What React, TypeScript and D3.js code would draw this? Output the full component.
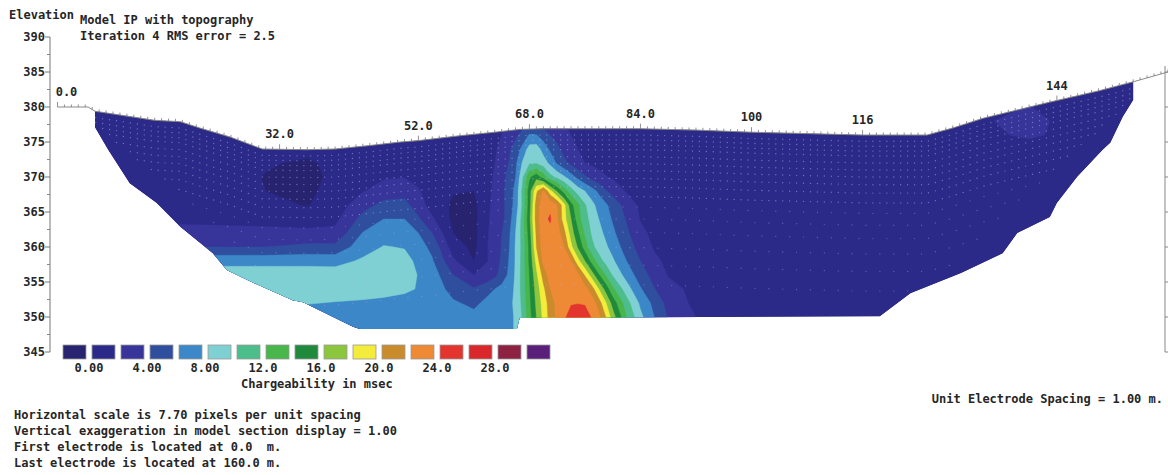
import React from "react";
import * as d3 from "d3";

// ---------- DATA ----------
// Grid columns (distance along line, m) and rows (elevation, m) of the chargeability model
const distCols = [0, 6, 12, 18, 24, 30, 36, 40, 44, 47, 50, 52, 54, 57, 60, 62, 63, 64, 65, 66, 67, 68, 69, 70, 71, 72, 73, 74, 75, 76, 77, 78, 79, 80, 82, 84, 86, 88, 92, 100, 110, 120, 130, 140, 150, 160];
const elevRows = [386, 378, 376, 374, 372, 370, 368, 366, 364, 362, 360, 358, 356, 354, 352, 350, 348, 346];

// Chargeability (msec) read from the section, one array per elevation row
const row386 = [1.3, 1.3, 1.3, 1.3, 1.3, 1.3, 1.3, 1.3, 1.3, 1.3, 1.3, 1.3, 1.3, 1.3, 1.3, 1.3, 1.3, 1.3, 1.3, 1.3, 1.3, 1.3, 1.3, 1.3, 1.3, 1.3, 1.3, 1.3, 1.3, 1.3, 1.3, 1.3, 1.3, 1.3, 1.3, 1.3, 1.3, 1.3, 1.3, 1.3, 1.3, 1.3, 1.3, 1.3, 1.3, 1.3];
const row378 = [1.3, 1.3, 1.3, 1.3, 1.3, 1.3, 1.3, 1.3, 1.3, 1.3, 1.3, 1.3, 1.3, 1.4, 1.5, 1.6, 1.7, 2.0, 2.3, 2.6, 3.0, 3.2, 3.2, 3.0, 2.6, 2.2, 1.9, 1.7, 1.5, 1.4, 1.4, 1.4, 1.4, 1.4, 1.4, 1.4, 1.4, 1.4, 1.3, 1.3, 1.3, 1.3, 1.7, 2.3, 1.3, 1.3];
const row376 = [1.3, 1.3, 1.3, 1.3, 1.3, 1.2, 1.1, 1.2, 1.3, 1.4, 1.5, 1.5, 1.5, 1.5, 1.5, 1.5, 1.6, 2.0, 2.8, 3.6, 4.6, 6.2, 6.1, 5.0, 4.0, 3.4, 2.7, 2.0, 1.7, 1.5, 1.4, 1.4, 1.4, 1.4, 1.4, 1.4, 1.4, 1.4, 1.3, 1.3, 1.3, 1.3, 1.5, 2.2, 1.3, 1.3];
const row374 = [1.3, 1.3, 1.3, 1.3, 1.3, 1.0, 0.6, 1.0, 1.3, 1.4, 1.5, 1.5, 1.4, 1.5, 1.4, 1.4, 1.7, 2.6, 3.6, 4.8, 6.6, 8.8, 9.0, 7.2, 5.6, 4.4, 3.4, 2.6, 2.0, 1.7, 1.5, 1.4, 1.4, 1.4, 1.4, 1.4, 1.4, 1.4, 1.3, 1.3, 1.3, 1.3, 1.3, 1.5, 1.3, 1.3];
const row372 = [1.3, 1.3, 1.3, 1.3, 1.0, 0.2, -0.3, 0.5, 1.3, 1.5, 1.6, 1.3, 1.2, 1.1, 1.2, 1.4, 2.0, 3.0, 4.0, 5.6, 8.2, 9.7, 9.8, 9.0, 7.5, 5.7, 4.5, 3.5, 2.6, 2.0, 1.7, 1.5, 1.4, 1.4, 1.4, 1.4, 1.4, 1.4, 1.3, 1.3, 1.3, 1.3, 1.3, 1.3, 1.3, 1.3];
const row370 = [1.3, 1.3, 1.3, 1.3, 0.8, -0.1, -0.4, 0.3, 1.5, 1.8, 1.9, 1.4, 1.0, 0.6, 0.6, 1.5, 2.2, 3.2, 4.6, 6.0, 9.6, 13.6, 15.2, 13.0, 10.6, 9.5, 8.3, 6.8, 5.5, 4.3, 3.3, 2.6, 2.1, 1.8, 1.5, 1.4, 1.4, 1.4, 1.3, 1.3, 1.3, 1.3, 1.3, 1.3, 1.3, 1.3];
const row368 = [1.3, 1.3, 1.3, 1.3, 0.8, 0.0, -0.3, 0.5, 1.9, 2.8, 3.3, 2.2, 0.9, 0.1, 0.0, 1.6, 2.4, 3.5, 4.8, 6.6, 10.4, 15.0, 19.6, 22.3, 18.6, 15.7, 13.0, 10.9, 9.0, 8.0, 6.8, 5.6, 4.2, 3.3, 1.8, 1.4, 1.4, 1.4, 1.3, 1.3, 1.3, 1.3, 1.3, 1.3, 1.3, 1.3];
const row366 = [1.3, 1.3, 1.3, 1.2, 1.0, 0.5, -0.1, 0.9, 3.2, 4.6, 4.6, 3.0, 1.1, -0.3, -0.5, 1.7, 2.5, 3.4, 4.8, 6.8, 10.3, 15.0, 21.0, 23.0, 23.6, 22.0, 18.6, 14.6, 12.4, 10.2, 8.6, 7.2, 6.3, 5.2, 3.2, 1.6, 1.4, 1.4, 1.3, 1.3, 1.3, 1.3, 1.3, 1.3, 1.3, 1.3];
const row364 = [1.3, 1.3, 1.4, 1.6, 1.5, 1.3, 1.0, 1.5, 4.7, 6.0, 6.0, 4.3, 2.3, -0.4, -0.6, 1.8, 2.6, 3.4, 5.0, 7.5, 10.8, 15.5, 21.0, 23.6, 24.2, 22.3, 18.8, 16.0, 12.8, 10.6, 9.4, 8.0, 6.8, 5.8, 3.8, 1.9, 1.4, 1.4, 1.3, 1.3, 1.3, 1.3, 1.3, 1.3, 1.3, 1.3];
const row362 = [1.3, 1.5, 2.4, 2.6, 2.6, 2.6, 2.5, 2.5, 6.1, 7.2, 7.0, 6.0, 4.0, 0.0, -0.6, 1.9, 2.8, 4.0, 5.5, 8.0, 10.8, 15.0, 20.4, 23.3, 23.5, 23.0, 20.6, 17.0, 14.3, 11.6, 9.7, 8.6, 7.6, 6.4, 4.4, 2.4, 1.6, 1.4, 1.3, 1.3, 1.3, 1.3, 1.3, 1.3, 1.3, 1.3];
const row360 = [1.5, 2.5, 4.0, 4.0, 4.0, 4.0, 4.5, 4.5, 7.2, 8.1, 7.9, 6.8, 5.5, 1.0, -0.5, 2.0, 3.0, 4.1, 5.7, 8.2, 10.6, 14.5, 20.0, 23.2, 23.6, 23.4, 22.0, 18.5, 15.7, 13.0, 10.5, 9.2, 8.3, 7.3, 5.0, 3.2, 1.8, 1.4, 1.3, 1.3, 1.3, 1.3, 1.3, 1.3, 1.3, 1.3];
const row358 = [3.0, 6.0, 7.4, 7.4, 7.4, 7.4, 7.4, 7.3, 8.3, 8.7, 8.6, 7.6, 6.2, 2.4, 0.0, 2.0, 3.1, 4.3, 6.0, 8.2, 10.7, 14.4, 18.6, 22.6, 23.8, 23.8, 23.4, 22.0, 18.6, 16.0, 13.2, 10.8, 9.4, 8.3, 6.0, 4.0, 2.4, 1.6, 1.3, 1.3, 1.3, 1.3, 1.3, 1.3, 1.3, 1.3];
const row356 = [9.0, 9.0, 9.0, 9.0, 9.0, 9.0, 9.0, 9.0, 9.0, 9.0, 9.0, 7.9, 7.0, 4.0, 2.0, 2.6, 3.5, 4.8, 6.3, 8.3, 10.8, 14.0, 17.5, 20.8, 23.0, 23.8, 23.9, 23.6, 22.5, 19.8, 17.0, 14.2, 11.8, 9.8, 7.2, 5.0, 3.2, 1.9, 1.4, 1.3, 1.3, 1.3, 1.3, 1.3, 1.3, 1.3];
const row354 = [9.0, 9.0, 9.0, 9.0, 9.0, 9.0, 9.0, 9.0, 9.0, 8.6, 8.3, 7.9, 7.3, 5.2, 4.2, 5.4, 6.0, 6.6, 7.2, 8.3, 10.8, 13.8, 16.8, 19.5, 22.0, 23.4, 23.9, 23.9, 23.5, 22.8, 20.9, 18.0, 15.2, 12.4, 8.9, 6.2, 4.1, 2.6, 1.5, 1.3, 1.3, 1.3, 1.3, 1.3, 1.3, 1.3];
const row352 = [9.0, 9.0, 9.0, 9.0, 9.0, 9.0, 8.1, 7.9, 7.7, 7.6, 7.4, 7.4, 7.2, 6.3, 5.5, 6.6, 6.9, 7.2, 7.6, 8.3, 10.5, 13.5, 16.4, 18.8, 21.0, 22.6, 23.4, 23.8, 23.9, 23.8, 23.2, 21.0, 18.2, 15.2, 10.8, 7.6, 5.4, 3.3, 1.5, 1.3, 1.3, 1.3, 1.3, 1.3, 1.3, 1.3];
const row350 = [9.0, 9.0, 9.0, 9.0, 9.0, 9.0, 7.0, 7.0, 7.0, 7.0, 7.0, 7.0, 7.0, 7.0, 6.6, 7.0, 7.0, 7.2, 7.5, 8.2, 10.2, 13.2, 16.0, 18.5, 20.8, 22.5, 23.6, 25.0, 25.5, 25.0, 23.8, 22.5, 20.0, 17.0, 12.0, 8.5, 6.0, 3.8, 2.0, 1.4, 1.3, 1.3, 1.3, 1.3, 1.3, 1.3];
const row348 = [9.0, 9.0, 9.0, 9.0, 9.0, 9.0, 7.0, 7.0, 7.0, 7.0, 7.0, 7.0, 7.0, 7.0, 6.6, 7.0, 7.0, 7.2, 7.5, 8.2, 10.2, 13.2, 16.0, 18.5, 20.8, 22.5, 23.6, 25.0, 25.5, 25.0, 23.8, 22.5, 20.0, 17.0, 12.0, 8.5, 6.0, 3.8, 2.0, 1.4, 1.3, 1.3, 1.3, 1.3, 1.3, 1.3];
const row346 = [9.0, 9.0, 9.0, 9.0, 9.0, 9.0, 7.0, 7.0, 7.0, 7.0, 7.0, 7.0, 7.0, 7.0, 6.6, 7.0, 7.0, 7.2, 7.5, 8.2, 10.2, 13.2, 16.0, 18.5, 20.8, 22.5, 23.6, 25.0, 25.5, 25.0, 23.8, 22.5, 20.0, 17.0, 12.0, 8.5, 6.0, 3.8, 2.0, 1.4, 1.3, 1.3, 1.3, 1.3, 1.3, 1.3];
const chargeRows = [row386, row378, row376, row374, row372, row370, row368, row366, row364, row362, row360, row358, row356, row354, row352, row350, row348, row346];

// Topography (distance m, elevation m)
const topoDist = [0, 4.4, 5.4, 10, 14, 17.7, 20.5, 24.9, 29.5, 36, 40, 45, 49.4, 52, 58, 63, 66.6, 70, 84, 92, 100, 108, 116, 125.3, 129, 133.4, 138, 143, 150, 155, 160];
const topoElev = [380, 380, 379.4, 378.7, 378.1, 377.9, 377, 375.7, 374, 373.9, 374, 374.5, 375, 375.2, 375.9, 376.4, 376.8, 376.9, 376.9, 376.7, 376.4, 376.2, 376, 376, 377, 378.4, 379.5, 380.7, 382.3, 383.6, 385];

// Lower boundary of the model section (left top -> bottom -> right top)
const baseDist = [5.4, 5.4, 7.3, 10.4, 14.3, 17.7, 22.4, 24.4, 28.2, 33.9, 35.4, 42.6, 43.6, 66.2, 66.6, 118.5, 122.9, 130.2, 136.2, 138.3, 143.0, 144.0, 146.9, 150.6, 151.7, 153.5, 155.0, 155.0];
const baseElev = [379.4, 377.1, 373.9, 369.1, 366.3, 362.9, 359.1, 356.7, 354.9, 352.4, 352.1, 348.6, 348.3, 348.3, 349.9, 350.1, 353.4, 356.3, 359.1, 362, 364.3, 366.3, 370, 373.9, 374.9, 378.6, 381, 383.6];

// Colour scale
const legendLevels = [0, 2, 4, 6, 8, 10, 12, 14, 16, 18, 20, 22, 24, 26, 28, 30];
const legendColors = ["#27236f", "#2c2a88", "#38359a", "#2f4f9e", "#3c87c8", "#7fd0d2", "#4dbd8b", "#49b64b", "#1f8a3b", "#8cc63f", "#f3ec3b", "#c98b2c", "#ee8a36", "#e3342d", "#d9272b", "#8c2141", "#5a1f7a"];
const legendLabelValues = [0, 4, 8, 12, 16, 20, 24, 28];
const legendLabels = ["0.00", "4.00", "8.00", "12.0", "16.0", "20.0", "24.0", "28.0"];

// Electrode labels along the topography
const electrodeLabelDist = [0, 32, 52, 68, 84, 100, 116, 144];
const electrodeLabels = ["0.0", "32.0", "52.0", "68.0", "84.0", "100", "116", "144"];

// Elevation axis
const yTickValues = [345, 350, 355, 360, 365, 370, 375, 380, 385, 390];
const yMinorValues = [347.5, 352.5, 357.5, 362.5, 367.5, 372.5, 377.5, 382.5, 387.5];

// Model block depths (m below surface) for the block-centre dots
const layerDepths = [0.9, 1.6, 2.3, 3.0, 4.0, 5.0, 6.0, 7.1, 8.3, 9.7, 11.2, 12.9, 14.8, 17.0, 19.5, 22.3];

const infoLines = [
  "Horizontal scale is 7.70 pixels per unit spacing",
  "Vertical exaggeration in model section display = 1.00",
  "First electrode is located at 0.0  m.",
  "Last electrode is located at 160.0 m.",
];

const FONT = "'DejaVu Sans Mono', 'Liberation Mono', monospace";

export default function App() {
  const W = 1168;
  const H = 475;
  const x = d3.scaleLinear().domain([0, 160]).range([57.5, 1167.9]);
  const y = d3.scaleLinear().domain([345, 390]).range([352, 37]);
  const topo = d3.scaleLinear().domain(topoDist).range(topoElev);
  const iToD = d3.scaleLinear().domain(distCols.map((_, i) => i)).range(distCols);
  const jToE = d3.scaleLinear().domain(elevRows.map((_, j) => j)).range(elevRows);

  const values = chargeRows.flat();
  const bands = d3.contours().size([distCols.length, elevRows.length]).thresholds(legendLevels)(values);
  const proj = d3.geoTransform({
    point(px: number, py: number) {
      // @ts-ignore
      this.stream.point(x(iToD(px - 0.5)), y(jToE(py - 0.5)));
    },
  });
  const geo = d3.geoPath(proj);

  const line = d3.line<[number, number]>().x((p) => x(p[0])).y((p) => y(p[1]));
  const basePts: [number, number][] = baseDist.map((d, i) => [d, baseElev[i]]);
  const leftD = baseDist[0];
  const rightD = baseDist[baseDist.length - 1];
  const topPts: [number, number][] = [[rightD, topo(rightD)]];
  for (let i = topoDist.length - 1; i >= 0; i--) {
    if (topoDist[i] < rightD && topoDist[i] > leftD) topPts.push([topoDist[i], topoElev[i]]);
  }
  topPts.push([leftD, topo(leftD)]);
  const modelPath = line([...basePts, ...topPts]) + "Z";
  const topoPath = line(topoDist.map((d, i) => [d, topoElev[i]] as [number, number]));

  const electrodes = d3.range(0, 161, 1);

  const dots: { cx: number; cy: number; o: number }[] = [];
  layerDepths.forEach((z, k) => {
    const step = z < 10 ? 1 : 2;
    const lo = Math.ceil(2 + 1.5 * z);
    const hi = Math.floor(158 - 1.5 * z);
    for (let d = lo; d <= hi; d += step) {
      dots.push({ cx: x(d + 0.5), cy: y(topo(d + 0.5) - z), o: k < 10 ? 0.5 : 0.35 });
    }
  });

  const legX = d3.scaleLinear().domain([0, 17]).range([63, 63 + 17 * 29]);
  const legLabelX = d3.scaleLinear().domain([0, 30]).range([89, 89 + 15 * 29]);

  const textStyle = { fontFamily: FONT, fontWeight: 700, fontSize: 12, fill: "#262626" } as const;

  return (
    <svg width={W} height={H} style={{ position: "absolute", left: 0, top: 0, background: "#fff" }}>
      <defs>
        <clipPath id="modelClip">
          <path d={modelPath} />
        </clipPath>
      </defs>

      {/* model section */}
      <g clipPath="url(#modelClip)">
        <path d={modelPath} fill={legendColors[0]} />
        {bands.map((b, k) => (
          <path key={k} d={geo(b as any) || ""} fill={legendColors[k + 1]} stroke={legendColors[k + 1]} strokeWidth={0.4} />
        ))}
        {dots.map((p, i) => (
          <circle key={i} cx={p.cx} cy={p.cy} r={0.7} fill="#b4b4f4" opacity={p.o} />
        ))}
      </g>

      {/* topography and electrodes */}
      <path d={topoPath || ""} fill="none" stroke="#8a8a8a" strokeWidth={1} />
      {electrodes.map((d) => (
        <line key={d} x1={x(d)} x2={x(d)} y1={y(topo(d))} y2={y(topo(d)) - (electrodeLabelDist.includes(d) ? 5 : 2.5)} stroke="#777" strokeWidth={0.8} />
      ))}
      {electrodeLabelDist.map((d, i) => (
        <text key={d} x={i === 0 ? x(d) + 9 : x(d)} y={y(topo(d)) - 11} textAnchor="middle" {...textStyle}>
          {electrodeLabels[i]}
        </text>
      ))}

      {/* left elevation axis */}
      <line x1={50} x2={50} y1={y(390)} y2={y(345)} stroke="#777" strokeWidth={1} />
      {yTickValues.map((v) => (
        <g key={v}>
          <line x1={45} x2={50} y1={y(v)} y2={y(v)} stroke="#777" strokeWidth={1} />
          <text x={45} y={y(v) + 4} textAnchor="end" {...textStyle}>{v}</text>
        </g>
      ))}
      {yMinorValues.map((v) => (
        <line key={v} x1={47} x2={50} y1={y(v)} y2={y(v)} stroke="#888" strokeWidth={1} />
      ))}

      {/* right frame line */}
      <line x1={1165} x2={1165} y1={66} y2={y(345)} stroke="#888" strokeWidth={1} />
      {yTickValues.filter((v) => y(v) > 66).map((v) => (
        <line key={v} x1={1165} x2={1168} y1={y(v)} y2={y(v)} stroke="#888" strokeWidth={1} />
      ))}

      {/* header */}
      <text x={9} y={19} {...textStyle}>Elevation</text>
      <text x={80} y={24} {...textStyle}>Model IP with topography</text>
      <text x={80} y={40} {...textStyle}>Iteration 4 RMS error = 2.5</text>

      {/* legend */}
      {legendColors.map((c, i) => (
        <rect key={i} x={legX(i)} y={345} width={23} height={14} fill={c} stroke="#9a9a9a" strokeWidth={0.8} />
      ))}
      {legendLabelValues.map((v, i) => (
        <text key={v} x={legLabelX(v)} y={372} textAnchor="middle" {...textStyle}>{legendLabels[i]}</text>
      ))}
      <text x={241} y={388} {...textStyle}>Chargeability in msec</text>

      <text x={1163} y={403} textAnchor="end" {...textStyle}>Unit Electrode Spacing = 1.00 m.</text>
      {infoLines.map((t, i) => (
        <text key={i} x={14} y={419 + i * 16} {...textStyle} style={{ whiteSpace: "pre" }}>{t}</text>
      ))}
    </svg>
  );
}
